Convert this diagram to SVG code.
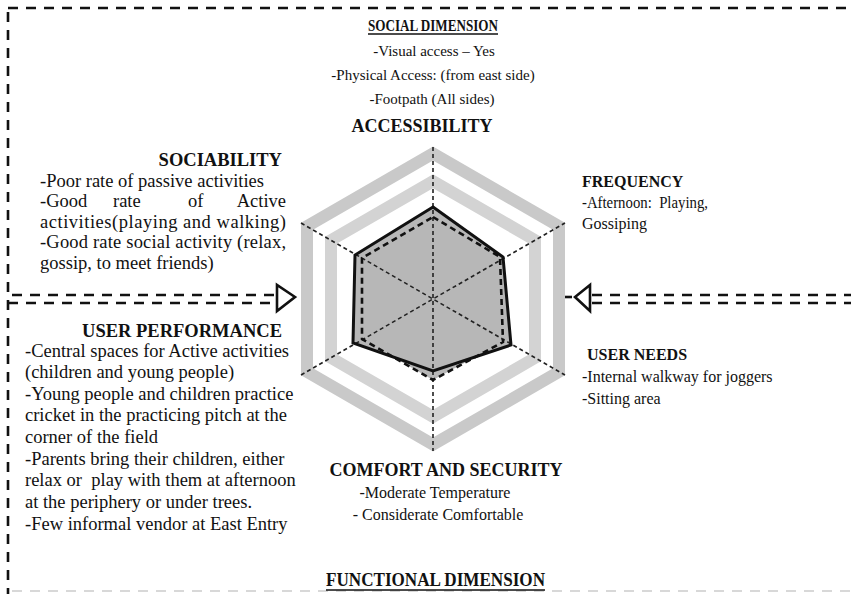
<svg xmlns="http://www.w3.org/2000/svg" width="851" height="594" viewBox="0 0 851 594">
<style>
text{font-family:"Liberation Serif","Times New Roman",serif;fill:#111}
.h{font-weight:bold}
.t15{font-size:15px}.t16{font-size:16px}.t18{font-size:18px}.t185{font-size:18.5px}
.bd{fill:none;stroke:#111;stroke-width:2.6;stroke-dasharray:10 8}
.faint{fill:none;stroke:#d8d8d8;stroke-width:2;stroke-dasharray:10 8}
.tri{fill:#fff;stroke:#111;stroke-width:2.6;stroke-linejoin:miter}
.band1{fill:none;stroke:#c9c9c9;stroke-width:12}
.band2{fill:none;stroke:#d3d3d3;stroke-width:12}
.diag{stroke:#222;stroke-width:1.6;stroke-dasharray:4 3}
.ul{stroke:#111;stroke-width:1.3}
</style>
<rect width="851" height="594" fill="#fff"/>

<g id="connectors">
  <line class="bd" x1="8" y1="8" x2="851" y2="8"/>
  <line class="bd" x1="8" y1="12" x2="8" y2="594"/>
  <line class="faint" x1="12" y1="591" x2="851" y2="591"/>
  <line class="bd" x1="12" y1="295" x2="275" y2="295"/>
  <line class="bd" x1="8" y1="303" x2="275" y2="303"/>
  <polygon class="tri" points="277,285 277,311 295,297"/>
  <line class="bd" x1="592" y1="295" x2="851" y2="295"/>
  <line class="bd" x1="592" y1="303" x2="851" y2="303"/>
  <line stroke="#111" stroke-width="2.6" x1="564" y1="297" x2="572" y2="297"/>
  <polygon class="tri" points="590,285 590,311 575,297"/>
</g>

<g id="radar-chart">
  <polygon class="band1" points="433,153.5 559,226.3 559,371.8 433,444.5 307,371.8 307,226.3"/>
  <polygon class="band2" points="433,181.2 535,240.1 535,357.9 433,416.8 331,357.9 331,240.1"/>
  <polygon fill="#b7b7b7" points="433,207 503,257 511,345 433,371 353,343 355,255"/>
  <polygon fill="#b7b7b7" points="433,217 500,257 503,342 433,380 362,339 362,258"/>
  <line class="diag" x1="433" y1="147" x2="433" y2="451"/>
  <line class="diag" x1="301" y1="223" x2="565" y2="375"/>
  <line class="diag" x1="301" y1="375" x2="565" y2="223"/>
  <polygon fill="none" stroke="#111" stroke-width="3" stroke-linejoin="miter" points="433,207 503,257 511,345 433,371 353,343 355,255"/>
  <polygon fill="none" stroke="#111" stroke-width="2.6" stroke-dasharray="6 4" points="433,217 500,257 503,342 433,380 362,339 362,258"/>
</g>

<g id="social-dimension">
  <text class="h t16" x="433" y="31" text-anchor="middle" textLength="130" lengthAdjust="spacingAndGlyphs">SOCIAL DIMENSION</text>
  <line class="ul" x1="368" y1="34" x2="498" y2="34"/>
  <text class="t15" x="434" y="56" text-anchor="middle">-Visual access – Yes</text>
  <text class="t15" x="433" y="80" text-anchor="middle">-Physical Access: (from east side)</text>
  <text class="t15" x="432" y="104" text-anchor="middle">-Footpath (All sides)</text>
</g>

<g id="accessibility">
  <text class="h t18" x="422" y="132" text-anchor="middle">ACCESSIBILITY</text>
</g>

<g id="sociability">
  <text class="h t185" x="282" y="166" text-anchor="end">SOCIABILITY</text>
  <text class="t185" x="40" y="187">-Poor rate of passive activities</text>
  <text class="t185" x="40" y="207">-Good</text>
  <text class="t185" x="113" y="207">rate</text>
  <text class="t185" x="188" y="207">of</text>
  <text class="t185" x="286" y="207" text-anchor="end">Active</text>
  <text class="t185" x="40" y="228" textLength="246" lengthAdjust="spacing">activities(playing and walking)</text>
  <text class="t185" x="40" y="248" textLength="246" lengthAdjust="spacing">-Good rate social activity (relax,</text>
  <text class="t185" x="40" y="269">gossip, to meet friends)</text>
</g>

<g id="frequency">
  <text class="h t16" x="582" y="187">FREQUENCY</text>
  <text class="t16" x="582" y="208" xml:space="preserve" textLength="126" lengthAdjust="spacingAndGlyphs">-Afternoon:  Playing,</text>
  <text class="t16" x="582" y="229">Gossiping</text>
</g>

<g id="user-performance">
  <text class="h t185" x="282" y="337" text-anchor="end">USER PERFORMANCE</text>
  <text class="t185" x="25" y="357">-Central spaces for Active activities</text>
  <text class="t185" x="25" y="378">(children and young people)</text>
  <text class="t185" x="25" y="400">-Young people and children practice</text>
  <text class="t185" x="25" y="421">cricket in the practicing pitch at the</text>
  <text class="t185" x="25" y="443">corner of the field</text>
  <text class="t185" x="25" y="465">-Parents bring their children, either</text>
  <text class="t185" x="25" y="486" xml:space="preserve">relax or  play with them at afternoon</text>
  <text class="t185" x="25" y="508">at the periphery or under trees.</text>
  <text class="t185" x="25" y="530">-Few informal vendor at East Entry</text>
</g>

<g id="user-needs">
  <text class="h t16" x="587" y="360">USER NEEDS</text>
  <text class="t16" x="582" y="382">-Internal walkway for joggers</text>
  <text class="t16" x="582" y="404">-Sitting area</text>
</g>

<g id="comfort-security">
  <text class="h t18" x="446" y="476" text-anchor="middle">COMFORT AND SECURITY</text>
  <text class="t16" x="435" y="498" text-anchor="middle">-Moderate Temperature</text>
  <text class="t16" x="438" y="520" text-anchor="middle">- Considerate Comfortable</text>
</g>

<g id="functional-dimension">
  <text class="h t18" x="435.5" y="586" text-anchor="middle" textLength="219" lengthAdjust="spacingAndGlyphs">FUNCTIONAL DIMENSION</text>
  <line class="ul" x1="326" y1="590" x2="545" y2="590"/>
</g>
</svg>
